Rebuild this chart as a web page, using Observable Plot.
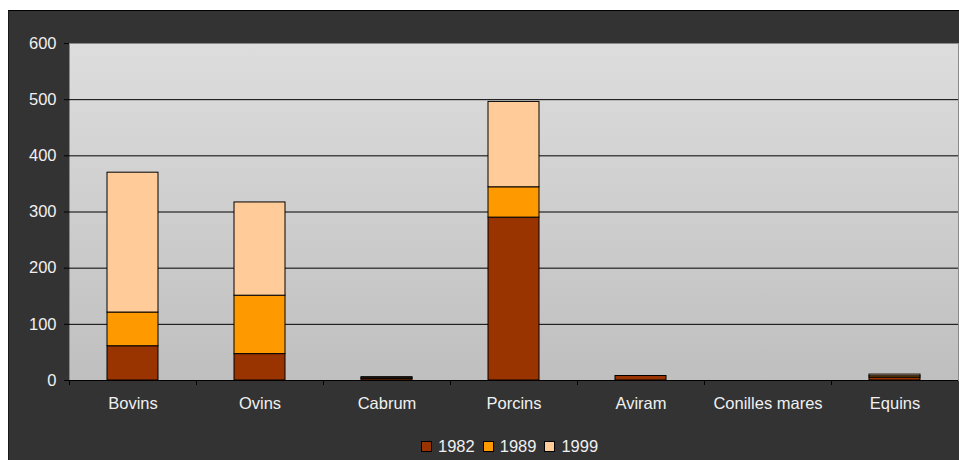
<!DOCTYPE html>
<html>
<head>
<meta charset="utf-8">
<script src="https://cdn.jsdelivr.net/npm/d3@7"></script>
<script src="https://cdn.jsdelivr.net/npm/@observablehq/plot@0.6"></script>
<style>
  html, body { margin: 0; padding: 0; background: #fff; width: 959px; height: 460px; overflow: hidden; }
  #box { position: absolute; left: 8px; top: 10px; width: 960px; height: 460px; background: #333333; border-top: 1px solid #000; border-left: 1px solid #1a1a1a; }
  #chart { position: absolute; left: 0; top: 0; }
  #legend { position: absolute; top: 437px; left: 421px; display: flex; align-items: center; font: 16.5px "Liberation Sans", Arial, sans-serif; color: #f0f0f0; }
  #legend .sw { width: 9px; height: 9px; border: 1px solid #000; margin-right: 6px; }
  #legend .it { display: flex; align-items: center; margin-right: 8px; }
</style>
</head>
<body>
<div id="box"></div>
<div id="chart"></div>
<div id="legend"></div>
<script>
const categories = ["Bovins", "Ovins", "Cabrum", "Porcins", "Aviram", "Conilles mares", "Equins"];
const years = ["1982", "1989", "1999"];
const colors = ["#993300", "#FF9900", "#FFCC99"];
const v1982 = [61, 47, 3, 290, 8, 0, 5];
const v1989 = [60, 104, 1, 54, 0, 0, 2.5];
const v1999 = [249, 166, 2, 152, 0, 0, 3];
const yTicks = [0, 100, 200, 300, 400, 500, 600];
const gridLines = [100, 200, 300, 400, 500];

const series = [v1982, v1989, v1999];
const data = [];
years.forEach((yr, j) => categories.forEach((c, i) => data.push({cat: c, year: yr, value: series[j][i]})));

const W = 959, H = 420;
const step = (W - 69 - 1) / categories.length;

const defs = () => {
  const g = d3.create("svg:defs");
  const lg = g.append("linearGradient").attr("id", "bg").attr("x1", 0).attr("y1", 0).attr("x2", 0).attr("y2", 1);
  lg.append("stop").attr("offset", "0%").attr("stop-color", "#dddddd");
  lg.append("stop").attr("offset", "100%").attr("stop-color", "#bfbfbf");
  return g.node();
};

const plot = Plot.plot({
  width: W,
  height: H,
  marginLeft: 69,
  marginRight: 1,
  marginTop: 43,
  marginBottom: 40,
  style: {background: "transparent", fontFamily: "'Liberation Sans', Arial, sans-serif", fontSize: "16.5px", color: "#f0f0f0"},
  x: {domain: categories, paddingInner: 0.6, paddingOuter: 0.3, label: null},
  y: {domain: [0, 600], label: null},
  color: {domain: years, range: colors},
  marks: [
    defs,
    Plot.frame({fill: "url(#bg)", stroke: "#8a8a8a"}),
    Plot.ruleY(gridLines, {stroke: "#000"}),
    Plot.barY(data, Plot.stackY({x: "cat", y: "value", fill: "year", stroke: "#000", strokeWidth: 1, order: years, filter: d => d.value > 0})),
    Plot.ruleY([0], {stroke: "#000"}),
    Plot.ruleX(categories, {x: d => d, dx: -step / 2, y1: 0, y2: 0, insetBottom: -5, stroke: "#000"}),
    Plot.axisY({ticks: yTicks, tickSize: 5, tickPadding: 8, stroke: "#000", fill: "#f0f0f0", label: null}),
    Plot.axisX({tickSize: 0, tickPadding: 17, fill: "#f0f0f0", label: null})
  ]
});
document.getElementById("chart").appendChild(plot);

const lg = document.getElementById("legend");
years.forEach((yr, j) => {
  const it = document.createElement("div");
  it.className = "it";
  const sw = document.createElement("div");
  sw.className = "sw";
  sw.style.background = colors[j];
  const t = document.createElement("span");
  t.textContent = yr;
  it.appendChild(sw);
  it.appendChild(t);
  lg.appendChild(it);
});
</script>
</body>
</html>
